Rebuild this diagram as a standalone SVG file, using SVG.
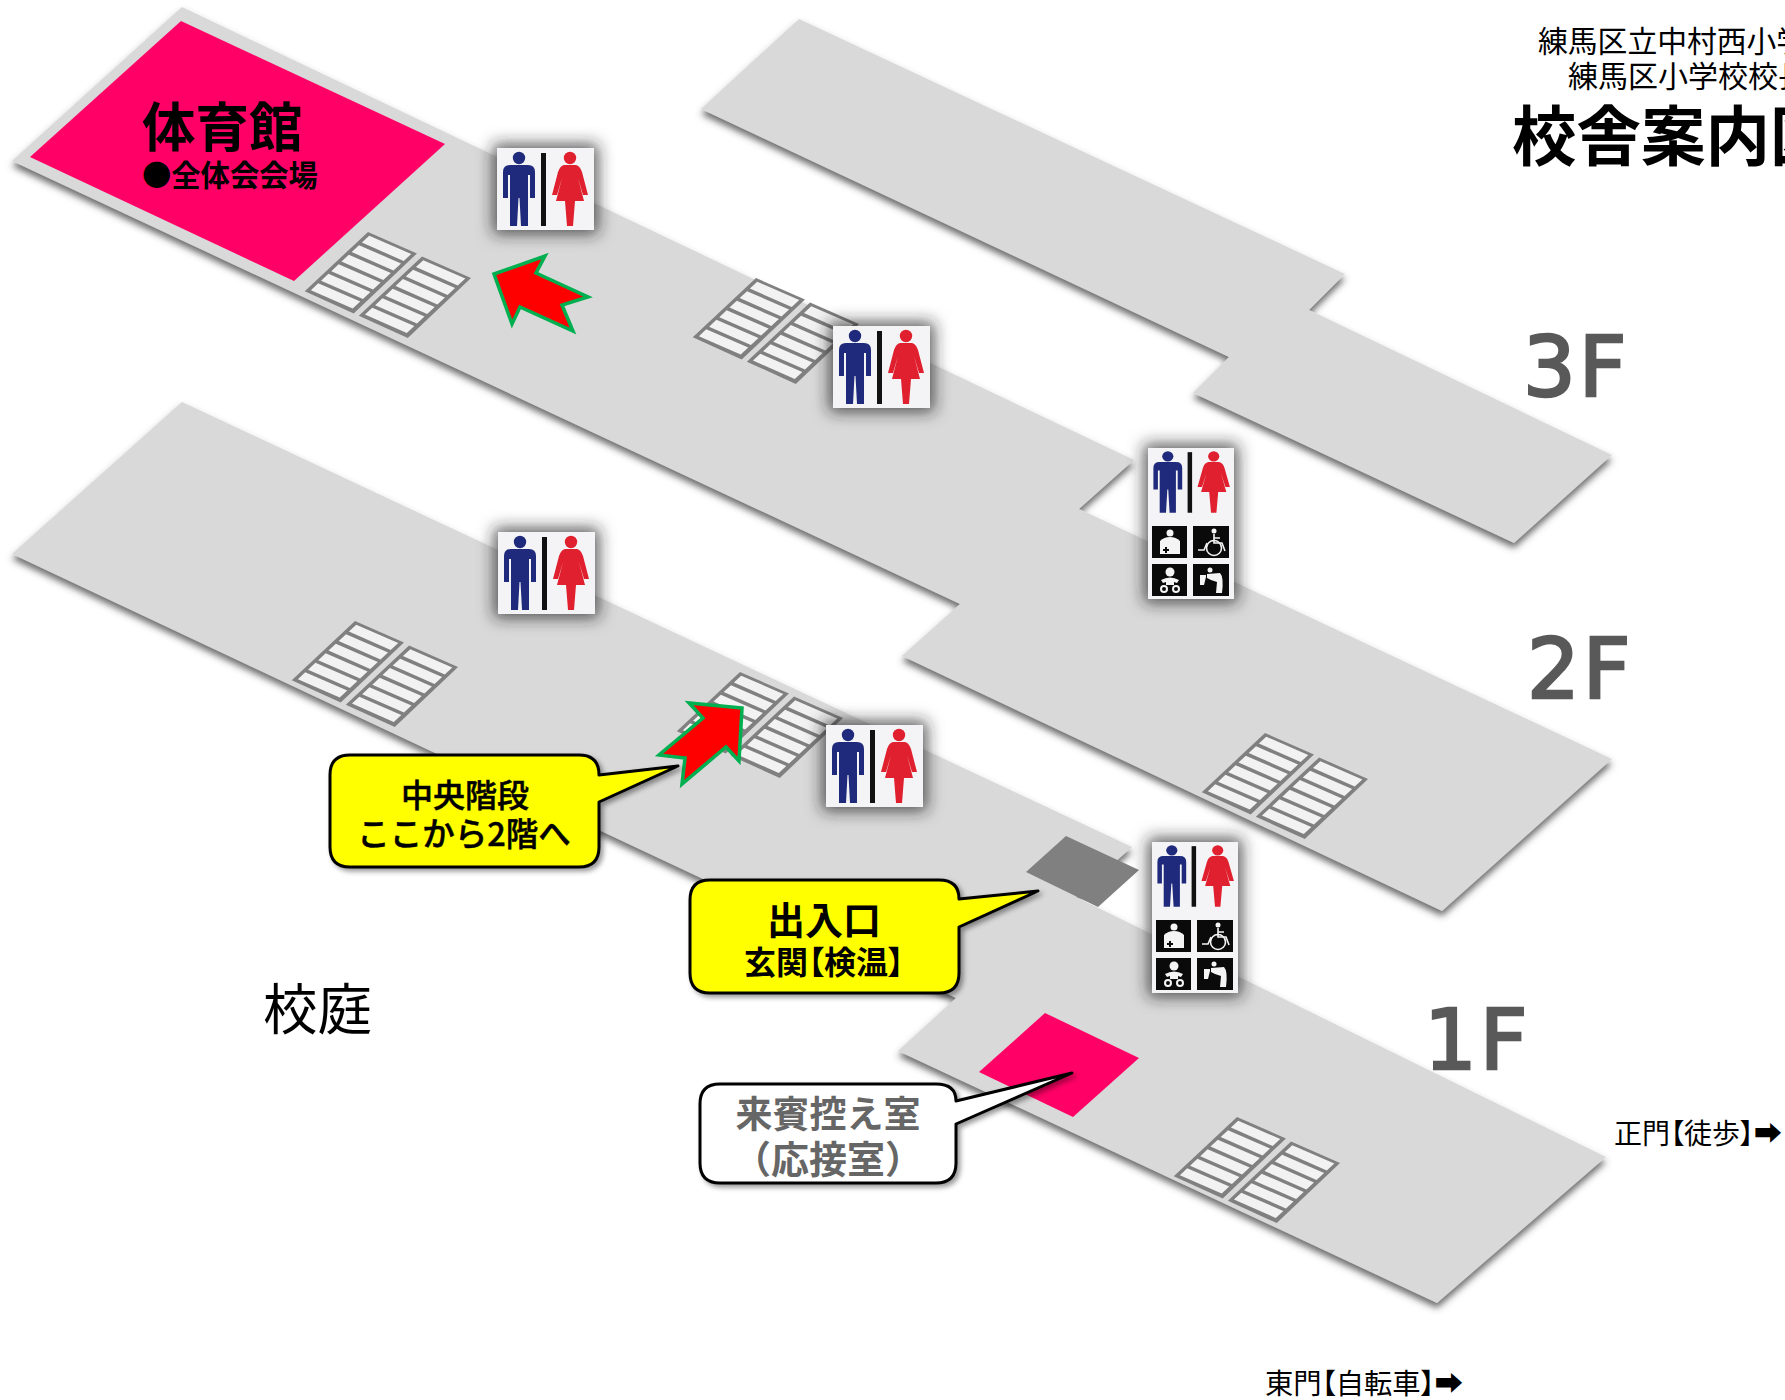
<svg xmlns="http://www.w3.org/2000/svg" xmlns:xlink="http://www.w3.org/1999/xlink" width="1785" height="1400" viewBox="0 0 1785 1400">
<style>
text{font-family:"Noto Sans CJK JP","Noto Sans",sans-serif;fill:#000}
.floor{fill:#d9d9d9;filter:url(#fs)}
.pink{fill:#ff0066}
.arrow{fill:#ff0000;stroke:#00b050;stroke-width:3.5}
.call{stroke:#000;stroke-width:3;stroke-linejoin:round;filter:url(#cs)}
.y{fill:#ffff00}
.w{fill:#fff}
.box{fill:#f4f4f6;filter:url(#is)}
.m{fill:#1f2a7c}.f{fill:#e0202e}.sep{fill:#111}
.lev{font-family:"DejaVu Sans",sans-serif;font-size:83px;letter-spacing:3px;fill:#595959;stroke:#595959;stroke-width:2.6}
.c{text-anchor:middle}
.p{font-feature-settings:"palt"}
.med{stroke:#000;stroke-width:.5}
</style>
<defs>
<filter id="fs" x="-10%" y="-10%" width="120%" height="120%"><feDropShadow dx="0" dy="5" stdDeviation="3.5" flood-color="#444" flood-opacity=".8"/></filter>
<filter id="cs" x="-10%" y="-10%" width="125%" height="125%"><feDropShadow dx="3" dy="3" stdDeviation="2.5" flood-color="#000" flood-opacity=".4"/></filter>
<filter id="is" x="-50%" y="-50%" width="200%" height="200%">
<feMorphology in="SourceAlpha" operator="dilate" radius="4" result="d"/>
<feGaussianBlur in="d" stdDeviation="8" result="b"/>
<feFlood flood-color="#222" flood-opacity=".75"/>
<feComposite in2="b" operator="in" result="s"/>
<feMerge><feMergeNode in="s"/><feMergeNode in="SourceGraphic"/></feMerge>
</filter>
<polygon id="tread" points="1.2,3.6 42.4,21.6 35,28.4 -6,10.4" fill="#f2f2f2"/>
<g id="flight">
<polygon points="0,0 48,21 -14,80 -62,58" fill="#808080"/>
<use xlink:href="#tread"/>
<use xlink:href="#tread" transform="translate(-10,9.3)"/>
<use xlink:href="#tread" transform="translate(-20,18.6)"/>
<use xlink:href="#tread" transform="translate(-30,28)"/>
<use xlink:href="#tread" transform="translate(-40,37.3)"/>
<use xlink:href="#tread" transform="translate(-50,46.6)"/>
</g>
<g id="stairs" transform="scale(1.02)"><use xlink:href="#flight"/><use xlink:href="#flight" transform="translate(53,24)"/></g>
<g id="people">
<circle class="m" cx="22" cy="10" r="6.2"/>
<path class="m" d="M13 17H31Q38 17 38 24V50H33V27H31V78H24L22.5 50H21.5L20 78H13V27H11V50H6V24Q6 17 13 17Z"/>
<rect class="sep" x="44" y="5" width="5" height="73"/>
<circle class="f" cx="73" cy="10" r="6.2"/>
<path class="f" d="M67 17H79Q83 18 85 24L91 47H86L81 30L87 53H78L76 78H70L68 53H59L65 30L60 47H55L61 24Q63 18 67 17Z"/>
</g>
<g id="wc"><rect class="box" width="97" height="82"/><use xlink:href="#people"/></g>
<g id="wcL">
<rect class="box" width="86" height="151"/>
<use xlink:href="#people" transform="scale(.9,.83)"/>
<g transform="translate(4,78)"><rect width="35" height="32" fill="#0a0a0a"/><circle cx="18" cy="7" r="3.5" fill="#f4f4f4"/><path d="M8 15Q12 11 18 11Q24 11 28 15V28H8Z" fill="#f4f4f4"/><path d="M12 25h2v-2h2v2h2v2h-2v2h-2v-2h-2Z" fill="#0a0a0a" transform="translate(-1,-2)"/></g>
<g transform="translate(45,78)"><rect width="36" height="32" fill="#0a0a0a"/><g fill="none" stroke="#f4f4f4" stroke-width="1.6"><circle cx="21" cy="22" r="7.5"/><path d="M21 8V17H29L32 25M21 12H27M14 17L11 24H5"/></g><circle cx="21" cy="5" r="2.5" fill="#f4f4f4"/></g>
<g transform="translate(4,116)"><rect width="35" height="32" fill="#0a0a0a"/><circle cx="18" cy="8" r="4.5" fill="#f4f4f4"/><path d="M9 16Q18 11 27 16L25 19L22 18V21H14V18L11 19Z" fill="#f4f4f4"/><g fill="none" stroke="#f4f4f4" stroke-width="2"><circle cx="12" cy="25" r="3"/><circle cx="24" cy="25" r="3"/></g></g>
<g transform="translate(45,116)"><rect width="36" height="32" fill="#0a0a0a"/><circle cx="17" cy="6" r="2.5" fill="#f4f4f4"/><path d="M14 10L27 9Q31 13 29 29H23L24 18L18 16L14 14Z" fill="#f4f4f4"/><path d="M7 11H13V13L11 21H7Z" fill="#f4f4f4"/></g>
</g>
</defs>
<rect width="1785" height="1400" fill="#fff"/>

<g id="floor-3f"><polygon class="floor" points="799,19 1345,274 1309,310 1612,455 1514,543 1193,393 1229,357 701,109"/></g>
<g id="floor-2f"><polygon class="floor" points="182,7 1134,460 1079,509 1612,759 1442,911 902,656 960,604 12,161"/></g>
<g id="floor-1f"><polygon class="floor" points="182,402 1132,847 1076,897 1606,1157 1437,1303 898,1051 956,998 12,554"/></g>

<g id="stairs-all">
<use xlink:href="#stairs" x="368" y="232"/>
<use xlink:href="#stairs" x="756" y="278"/>
<use xlink:href="#stairs" x="355" y="621"/>
<use xlink:href="#stairs" x="740" y="672"/>
<use xlink:href="#stairs" x="1265" y="733"/>
<use xlink:href="#stairs" x="1237" y="1117"/>
</g>

<g id="gym"><polygon class="pink" points="181,21 445,144 294,281 30,157"/>
<text x="142" y="147" font-size="53.5" font-weight="700">体育館</text>
<text x="142" y="186" font-size="29.3" font-weight="700">●全体会会場</text></g>
<polygon id="reception-room" class="pink" points="1045,1013 1139,1058 1073,1117 979,1072"/>
<polygon id="entrance" points="1066,836 1139,870 1098,907 1026,872" fill="#808080"/>

<g id="wc-1"><use xlink:href="#wc" x="497" y="148"/></g>
<g id="wc-2"><use xlink:href="#wc" x="833" y="326"/></g>
<g id="wc-3"><use xlink:href="#wc" x="498" y="532"/></g>
<g id="wc-4"><use xlink:href="#wc" x="826" y="725"/></g>
<g id="wc-5"><use xlink:href="#wcL" x="1148" y="448"/></g>
<g id="wc-6"><use xlink:href="#wcL" x="1152" y="842"/></g>

<polygon id="arrow-1" class="arrow" points="494,274 545,256 536,273 588,297 562,305 573,331 520,307 512,324"/>
<polygon id="arrow-2" class="arrow" points="742,708 689,703 703,718 659,755 685,758 682,784 726,747 739,761"/>

<g id="callout-stairs">
<path class="call y" d="M350 755H579Q599 755 599 775L678 766L599 802V847Q599 867 579 867H350Q330 867 330 847V775Q330 755 350 755Z"/>
<text class="c med" x="465" y="807" font-size="32" font-weight="500">中央階段</text>
<text class="c med" x="464" y="846" font-size="32.5" font-weight="500">ここから2階へ</text>
</g>
<g id="callout-entrance">
<path class="call y" d="M710 880H939Q959 880 959 899L1038 891L959 927V973Q959 993 939 993H710Q690 993 690 973V900Q690 880 710 880Z"/>
<text class="c" x="824" y="934" font-size="38" font-weight="700">出入口</text>
<text class="c p" x="824" y="974" font-size="32" font-weight="700">玄関【検温】</text>
</g>
<g id="callout-reception">
<path class="call w" d="M720 1084H936Q956 1084 956 1101L1072 1073L956 1124V1163Q956 1183 936 1183H720Q700 1183 700 1163V1104Q700 1084 720 1084Z"/>
<text class="c" x="828" y="1128" font-size="37" font-weight="700" style="fill:#666">来賓控え室</text>
<text class="c" x="828" y="1173" font-size="38" font-weight="700" style="fill:#666">（応接室）</text>
</g>

<g id="labels">
<text x="1538" y="52" font-size="29.8">練馬区立中村西小学</text>
<text x="1568" y="87" font-size="30">練馬区小学校校長</text>
<text x="1512" y="160" font-size="64.5" font-weight="700">校舎案内図</text>
<text class="lev" x="1523" y="396">3F</text>
<text class="lev" x="1527" y="698">2F</text>
<text class="lev" x="1424" y="1069">1F</text>
<text x="263" y="1029" font-size="54.5">校庭</text>
<text class="p" x="1614" y="1144" style="font-family:'Noto Sans CJK JP','DejaVu Sans',sans-serif" font-size="28">正門【徒歩】➡</text>
<text class="p" x="1265" y="1394" style="font-family:'Noto Sans CJK JP','DejaVu Sans',sans-serif" font-size="28.3">東門【自転車】➡</text>
</g>
</svg>
